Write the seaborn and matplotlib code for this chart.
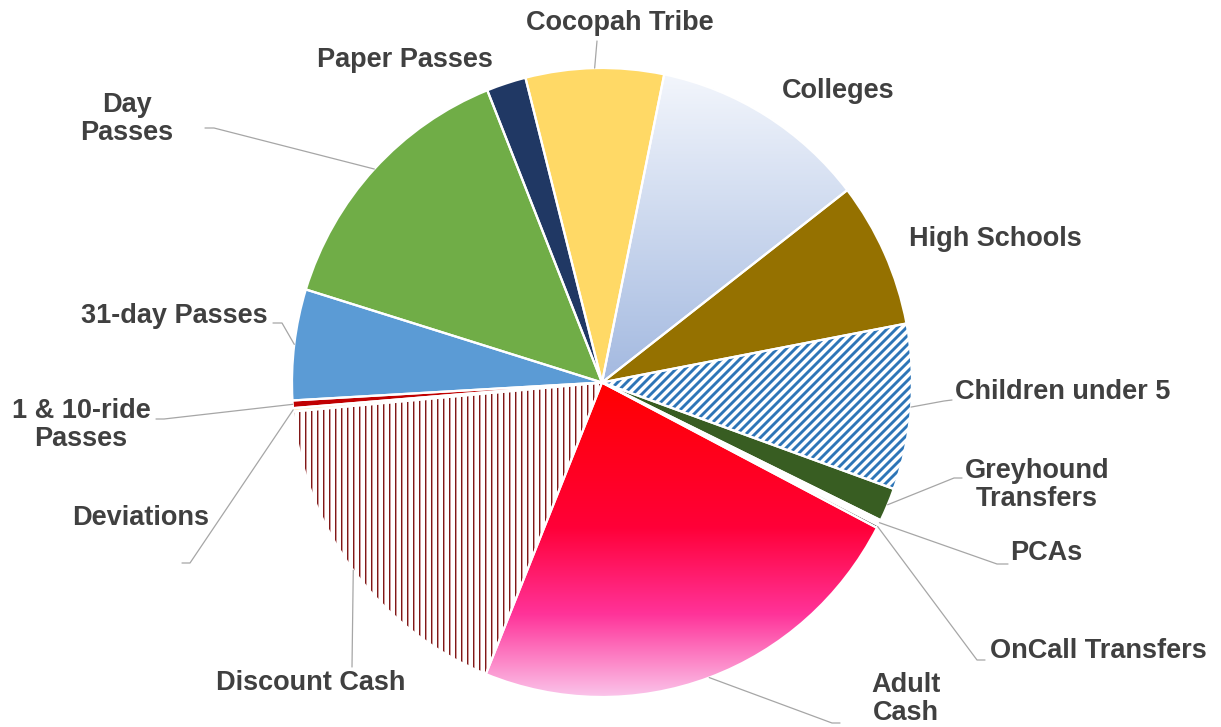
import numpy as np
import matplotlib
matplotlib.use("Agg")
import matplotlib.pyplot as plt
import seaborn as sns
from matplotlib.colors import LinearSegmentedColormap, to_rgb

# ---------------- data ----------------
categories = ["Cocopah Tribe", "Colleges", "High Schools", "Children under 5",
              "Greyhound Transfers", "PCAs", "OnCall Transfers", "Adult Cash",
              "Discount Cash", "Deviations", "1 & 10-ride Passes", "31-day Passes",
              "Day Passes", "Paper Passes"]
shares = [7.19, 11.31, 7.47, 8.50, 1.72, 0.28, 0.15, 23.47,
          17.42, 0.17, 0.39, 5.69, 14.19, 2.06]
label_texts = ["Cocopah Tribe", "Colleges", "High Schools", "Children under 5",
               "Greyhound\nTransfers", "PCAs", "OnCall Transfers", "Adult\nCash",
               "Discount Cash", "Deviations", "1 & 10-ride\nPasses", "31-day Passes",
               "Day\nPasses", "Paper Passes"]

# ---------------- styles ----------------
face_colors = ["#FFD966", "#C9D6EE", "#957100", "white",
               "#385D22", "white", "#262626", "#FF0000",
               "white", "#FFF2CC", "#C00000", "#5B9BD5",
               "#70AD47", "#203864"]
# stripe patterns: (kind, period px, [(offset, colour), ...])
patterns = {3: ("diag", 9, [(0, "#8DB6DD"), (1, "#2E75B6"), (2, "#2E75B6"), (3, "#2E75B6"), (4, "#8DB6DD")]),
            8: ("vert", 6, [(0, "#801818"), (1, "#CC9999")])}
gradients = {1: [(0.0, "#F3F6FC"), (1.0, "#A3B9E0")],
             7: [(0.0, "#FF0000"), (0.45, "#FF0038"), (0.72, "#FF3399"), (1.0, "#FAD2F2")]}

W, H = 1221, 727
label_pos = [(620, 23), (838, 91), (995, 239), (1063, 392),
             (1037, 485), (1046, 553), (1098, 651), (906, 699),
             (311, 683), (141, 518), (81, 425), (174, 316),
             (127, 119), (405, 60)]
leader_pts = {0: [(597, 41)],
              3: [(952, 400), (944, 401)],
              4: [(962, 478), (954, 478)],
              5: [(1008, 564), (997, 564)],
              6: [(985, 660), (977, 660)],
              7: [(840, 723), (832, 723)],
              8: [(352, 667)],
              9: [(182, 563), (190, 563)],
              10: [(156, 419), (164, 419)],
              11: [(273, 323), (282, 323)],
              12: [(205, 128), (214, 128)]}

sns.set_theme(style="white")
plt.rcParams["font.family"] = ["Liberation Sans", "DejaVu Sans"]

fig = plt.figure(figsize=(W / 100, H / 100), dpi=100)
fig.patch.set_facecolor("white")
ax = fig.add_axes([292 / W, (H - 697) / H, 620 / W, 629 / H])

start = 104.3
wedges, _ = ax.pie(shares, colors=face_colors, startangle=start, counterclock=False,
                   radius=1, wedgeprops=dict(linewidth=0))
ax.set_xlim(-1, 1)
ax.set_ylim(-1, 1)
ax.set_aspect("auto")


def wedge_bbox(wedge):
    v = wedge.get_path().vertices
    return v[:, 0].min(), v[:, 0].max(), v[:, 1].min(), v[:, 1].max()


def fill_gradient(ax, wedge, stops):
    x0, x1, y0, y1 = wedge_bbox(wedge)
    cmap = LinearSegmentedColormap.from_list("g", stops)
    grad = np.linspace(0, 1, 256).reshape(-1, 1)
    im = ax.imshow(grad, cmap=cmap, extent=[x0, x1, y0, y1], origin="upper",
                   aspect="auto", zorder=1.5, interpolation="bilinear")
    im.set_clip_path(wedge)
    wedge.set_facecolor("none")


def fill_stripes(ax, wedge, kind, period, cols):
    x0, x1, y0, y1 = wedge_bbox(wedge)
    (dx0, dy0), (dx1, dy1) = ax.transData.transform([(x0, y0), (x1, y1)])
    dx0, dy0 = np.floor(dx0), np.floor(dy0)
    dx1, dy1 = np.ceil(dx1), np.ceil(dy1)
    wpx, hpx = int(dx1 - dx0), int(dy1 - dy0)
    img = np.ones((hpx, wpx, 3))
    cc, rr = np.meshgrid(np.arange(wpx), np.arange(hpx))
    phase = (cc + rr) % period if kind == "diag" else cc % period
    for off, col in cols:
        img[phase == off] = to_rgb(col)
    (ex0, ey0), (ex1, ey1) = ax.transData.inverted().transform([(dx0, dy0), (dx1, dy1)])
    im = ax.imshow(img, extent=[ex0, ex1, ey0, ey1], origin="upper", aspect="auto",
                   zorder=1.5, interpolation="nearest")
    im.set_clip_path(wedge)
    wedge.set_facecolor("none")


for i, stops in gradients.items():
    fill_gradient(ax, wedges[i], stops)
for i, (kind, period, cols) in patterns.items():
    fill_stripes(ax, wedges[i], kind, period, cols)

# white slice borders on top
ax.pie(shares, colors=["none"] * len(shares), startangle=start, counterclock=False,
       radius=1, wedgeprops=dict(linewidth=1.6, edgecolor="white", zorder=4))

ax.set_xlim(-1, 1)
ax.set_ylim(-1, 1)
ax.set_aspect("auto")
ax.axis("off")

inv = ax.transData.inverted()
for i, pts in leader_pts.items():
    w = wedges[i]
    th = np.deg2rad((w.theta1 + w.theta2) / 2)
    xs, ys = [], []
    for (px, py) in pts:
        dx, dy = inv.transform((px, H - py))
        xs.append(dx)
        ys.append(dy)
    xs.append(w.r * np.cos(th))
    ys.append(w.r * np.sin(th))
    ax.plot(xs, ys, color="#A6A6A6", lw=0.9, clip_on=False, zorder=5)

for txt, (px, py) in zip(label_texts, label_pos):
    fig.text(px / W, 1 - py / H, txt, ha="center", va="center", fontsize=19.5,
             fontweight="bold", color="#404040", linespacing=1.15)

fig.savefig("out.png", dpi=100, facecolor="white")
